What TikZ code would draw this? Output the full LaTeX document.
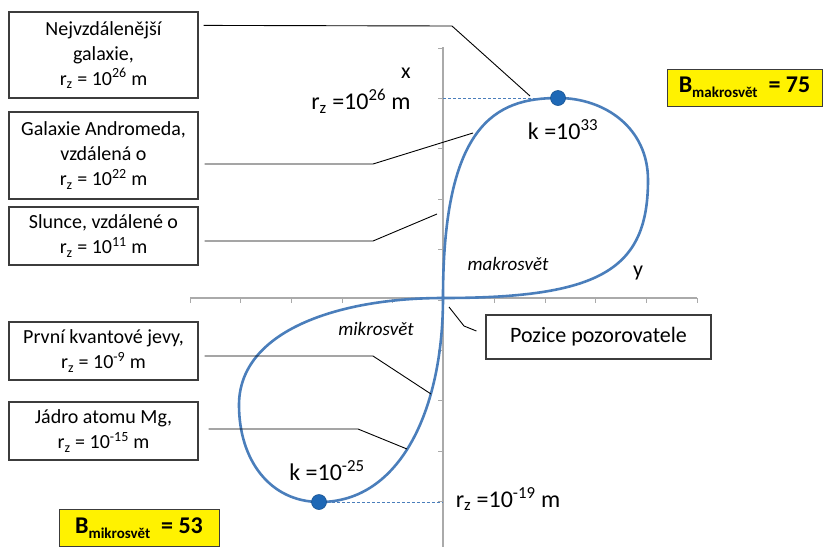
\documentclass[tikz,border=0pt]{standalone}
\usepackage{fontspec}
\setmainfont{Carlito}
\usepackage{tikz}
\usetikzlibrary{calc}
\usepackage{xcolor}
\definecolor{curveblue}{RGB}{74,126,187}
\definecolor{dotblue}{RGB}{30,104,182}
\definecolor{axisgray}{RGB}{170,170,170}
\definecolor{boxgray}{RGB}{60,60,60}
\newcommand{\rz}{r\textsubscript{z}}
\newcommand{\Bsub}[1]{B\raisebox{-5pt}{\fontsize{15}{15}\selectfont #1}}
\tikzset{
  infobox/.style={draw=boxgray,line width=1.2pt,fill=white,minimum width=189pt,align=center,inner sep=2pt,font=\fontsize{20}{25}\selectfont},
  scorebox/.style={draw=boxgray,line width=0.8pt,fill=yellow,minimum height=37pt,font=\bfseries\fontsize{24}{24}\selectfont},
  axislabel/.style={font=\fontsize{24}{24}\selectfont},
}

\begin{document}
\begin{tikzpicture}[
    x=1pt,y=-1pt,
    curve/.style={curveblue,line width=2.6pt},
    dot/.style={circle,fill=dotblue,draw=dotblue!80!black,line width=0.6pt,minimum size=15pt,inner sep=0pt},
    guide/.style={curveblue,densely dashed,line width=0.6pt},
    leader/.style={black,line width=0.9pt},
    axisline/.style={axisgray,line width=1.4pt},
  ]
    \useasboundingbox (0,0) rectangle (823,547);

    %────────── AXES ───────────────
    \draw[axisline] (190,298) -- (697,298);
    \draw[axisline] (443,47) -- (443,547);
    \foreach \i in {0,...,10}
      \draw[axisgray,line width=0.8pt] ({190+50.7*\i},298) -- ++(0,5);
    \foreach \i in {0,...,9}
      \draw[axisgray,line width=0.8pt] (443,{48+50.4*\i}) -- ++(-5,0);
    \node[font=\fontsize{22}{22}\selectfont] (xlab) at (406,73) {x};
    \node[font=\fontsize{22}{22}\selectfont] (ylab) at (638,273) {y};

    %────────── CURVE ──────────────
    \coordinate (O) at (443,298);
    \draw[curve] (O) .. controls (443,125) and (495,98) .. (558,98)
      .. controls (605,98) and (648,128) .. (648,180)
      .. controls (648,270) and (600,298) .. (O)
      .. controls (340,298) and (239,330) .. (239,405)
      .. controls (239,460) and (270,502) .. (320,502)
      .. controls (400,502) and (443,410) .. (O);

    %────────── EXTREMES ───────────
    \coordinate (ymax) at (443,98);
    \coordinate (ymin) at (443,502);
    \node[dot] (kmax) at (558,98) {};
    \node[dot] (kmin) at (319,502) {};
    \draw[guide] (ymax) -- (kmax);
    \draw[guide] (kmin) -- (ymin);
    \node[axislabel] (rmax) at (361,101) {\rz{} =10\textsuperscript{26} m};
    \node[axislabel] (kmaxlab) at (563,130) {k =10\textsuperscript{33}};
    \node[axislabel] (kminlab) at (327,471) {k =10\textsuperscript{-25}};
    \node[axislabel] (rmin) at (508,499) {\rz{} =10\textsuperscript{-19} m};

    %────────── REGIONS ────────────
    \node[font=\itshape\fontsize{19}{19}\selectfont] (makro) at (508,264) {makrosvět};
    \node[font=\itshape\fontsize{19}{19}\selectfont] (mikro) at (376,329) {mikrosvět};

    %────────── INFO BOXES ─────────
    \node[infobox,minimum height=86pt] (gal) at (103.5,55) {Nejvzdálenější\\galaxie,\\\rz{} = 10\textsuperscript{26} m};
    \node[infobox,minimum height=87pt] (andro) at (103.5,155.5) {Galaxie Andromeda,\\vzdálená o\\\rz{} = 10\textsuperscript{22} m};
    \node[infobox,minimum height=58pt] (sun) at (103.5,236) {Slunce, vzdálené o\\\rz{} = 10\textsuperscript{11} m};
    \node[infobox,minimum height=58pt] (quant) at (103.5,351) {První kvantové jevy,\\\rz{} = 10\textsuperscript{-9} m};
    \node[infobox,minimum height=58pt] (mg) at (103.5,431) {Jádro atomu Mg,\\\rz{} = 10\textsuperscript{-15} m};
    \node[infobox,minimum width=225pt,minimum height=44pt,font=\fontsize{22}{22}\selectfont] (obs) at (598.5,337) {Pozice pozorovatele};

    %────────── LEADERS ────────────
    \coordinate (pgal) at (530,96);
    \coordinate (pandro) at (473,133);
    \coordinate (psun) at (437,214);
    \coordinate (pquant) at (431,394);
    \coordinate (pmg) at (407,449);
    \coordinate (pobs) at (449,307);
    \draw[leader] ([xshift=5pt,yshift=-14pt]gal.north east) -- (452,26) -- (pgal);
    \draw[leader] ([xshift=6pt,yshift=-8.5pt]andro.east) -- (373,164) -- (pandro);
    \draw[leader] ([xshift=6pt,yshift=-5pt]sun.east) -- (373,241) -- (psun);
    \draw[leader] ([xshift=6pt,yshift=-5pt]quant.east) -- (373,356) -- (pquant);
    \draw[leader] ([xshift=10pt,yshift=2pt]mg.east) -- (358,429) -- (pmg);
    \draw[leader] ([xshift=-9pt,yshift=6pt]obs.west) -- (464,326) -- (pobs);

    %────────── SCORES ─────────────
    \node[scorebox,minimum width=155pt] (bmak) at (744.5,87.5) {\Bsub{makrosvět}\ \ = 75};
    \node[scorebox,minimum width=160pt] (bmik) at (139,528) {\Bsub{mikrosvět}\ \ = 53};
  \end{tikzpicture}
\end{document}
